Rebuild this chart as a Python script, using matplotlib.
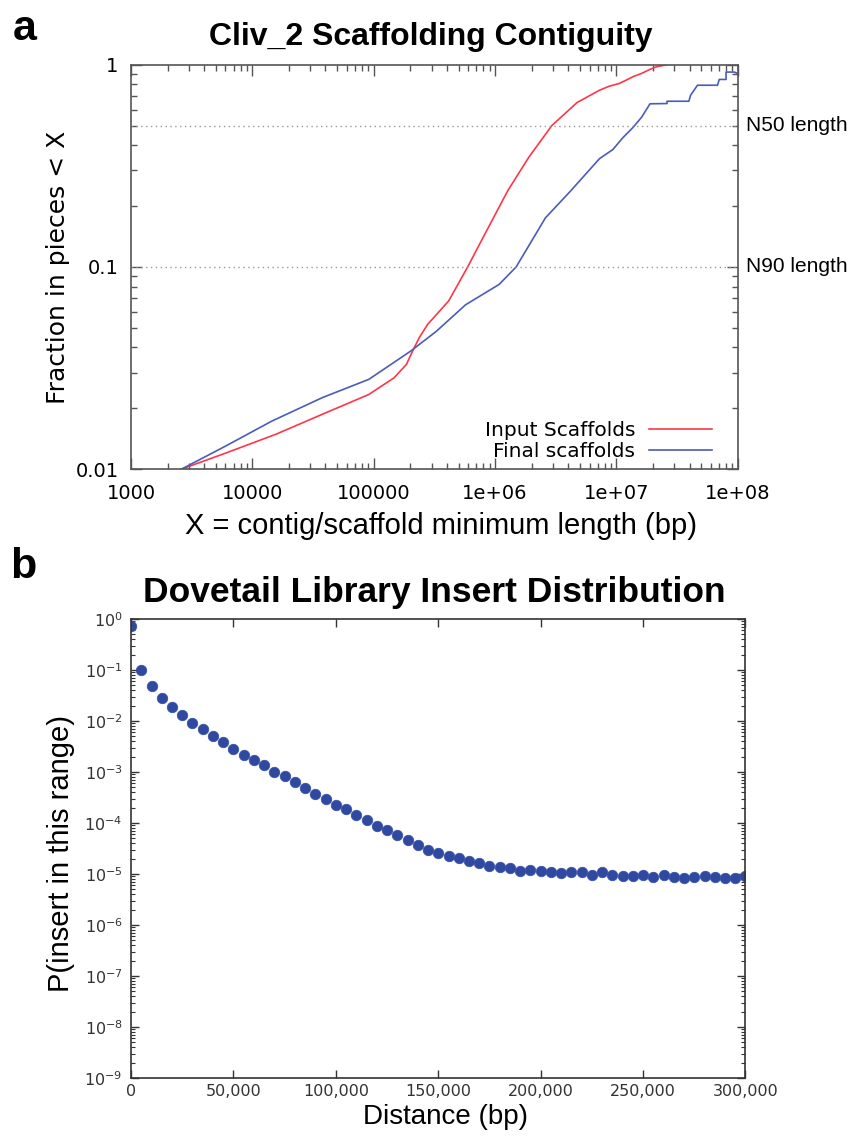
import math
import matplotlib
matplotlib.use("Agg")
import matplotlib.pyplot as plt
from matplotlib.ticker import LogLocator, NullFormatter, FuncFormatter

ARIAL = ["Liberation Sans", "DejaVu Sans"]
plt.rcParams["font.family"] = ["DejaVu Sans"]

# panel a: cumulative fraction of pieces shorter than X
input_x = [2600, 6000, 15700, 37800, 91000, 147000, 186000, 209000, 237000, 278000,
           415000, 594000, 851000, 1.27e6, 1.89e6, 2.93e6, 4.73e6, 7.24e6, 8.7e6,
           1.05e7, 1.2e7, 1.37e7, 1.61e7, 1.89e7, 2.16e7, 2.61e7]
input_y = [0.01, 0.012, 0.0149, 0.0187, 0.0234, 0.0283, 0.033, 0.0384, 0.0447, 0.052,
           0.068, 0.1, 0.151, 0.238, 0.348, 0.5, 0.65, 0.748, 0.783,
           0.807, 0.839, 0.873, 0.906, 0.949, 0.979, 1.0]
final_x = [2600, 6000, 14500, 37800, 91000, 202000, 327000, 571000, 1.08e6, 1.49e6,
           2.6e6, 4.2e6, 7.24e6, 9.35e6, 1.13e7, 1.37e7, 1.61e7, 1.89e7, 2.61e7, 2.61e7,
           3.95e7, 4.08e7, 4.65e7, 6.8e7, 7.03e7, 8.0e7, 8.0e7, 9.35e7, 1e8]
final_y = [0.01, 0.013, 0.0173, 0.0226, 0.0278, 0.0384, 0.048, 0.065, 0.082, 0.1,
           0.175, 0.238, 0.343, 0.381, 0.436, 0.49, 0.55, 0.641, 0.643, 0.66,
           0.66, 0.706, 0.792, 0.792, 0.846, 0.846, 0.92, 0.92, 0.905]
a_xticks = [1e3, 1e4, 1e5, 1e6, 1e7, 1e8]
a_xlabels = ["1000", "10000", "100000", "1e+06", "1e+07", "1e+08"]
a_yticks = [0.01, 0.1, 1]
a_ylabels = ["0.01", "0.1", "1"]
n_lines = [0.5, 0.1]
n_names = ["N50 length", "N90 length"]

# panel b: insert size distribution
distance = list(range(0, 300001, 5000))
prob = [0.72, 0.1, 0.048, 0.028, 0.0185, 0.0132, 0.0091, 0.0069, 0.005, 0.0039,
        0.0029, 0.0022, 0.00172, 0.00135, 0.00102, 0.00083, 0.00064, 0.00049, 0.00038, 0.0003,
        0.00023, 0.000185, 0.000144, 0.000114, 8.9e-5, 7.2e-5, 5.8e-5, 4.7e-5, 3.8e-5, 3.0e-5,
        2.6e-5, 2.3e-5, 2.05e-5, 1.83e-5, 1.62e-5, 1.41e-5, 1.35e-5, 1.29e-5, 1.15e-5, 1.23e-5,
        1.15e-5, 1.08e-5, 1.05e-5, 1.11e-5, 1.11e-5, 9.7e-6, 1.11e-5, 9.6e-6, 9.3e-6, 9.3e-6,
        9.7e-6, 8.7e-6, 9.7e-6, 8.7e-6, 8.3e-6, 8.7e-6, 9.3e-6, 8.7e-6, 8.3e-6, 8.3e-6,
        9.0e-6]
b_xticks = [0, 50000, 100000, 150000, 200000, 250000, 300000]

fig = plt.figure(figsize=(8.51, 11.36), dpi=100)

# ---- panel a ----
ax = fig.add_axes([0.154, 0.587, 0.713, 0.356])
ax.plot(input_x, input_y, color="#ff3548", lw=1.2, label="Input Scaffolds")
ax.plot(final_x, final_y, color="#4a5cba", lw=1.2, label="Final scaffolds")
for yv, name in zip(n_lines, n_names):
    ax.axhline(yv, color="#999999", ls=(0, (1, 2.5)), lw=1)
    ax.text(1.014, yv, name, transform=ax.get_yaxis_transform(), va="center",
            ha="left", fontsize=15, family=ARIAL)
ax.set_xscale("log")
ax.set_yscale("log")
ax.set_xlim(1e3, 1e8)
ax.set_ylim(0.01, 1)
ax.set_xticks(a_xticks, a_xlabels, fontsize=14)
ax.set_yticks(a_yticks, a_ylabels, fontsize=14)
ax.xaxis.set_minor_locator(LogLocator(base=10, subs=range(2, 10), numticks=20))
ax.yaxis.set_minor_locator(LogLocator(base=10, subs=range(2, 10), numticks=20))
ax.xaxis.set_minor_formatter(NullFormatter())
ax.yaxis.set_minor_formatter(NullFormatter())
ax.tick_params(which="both", direction="in", top=True, right=True, color="#555555")
ax.tick_params(which="major", length=8, width=1)
ax.tick_params(axis="x", which="major", pad=11)
ax.tick_params(axis="y", which="major", pad=9)
ax.tick_params(which="minor", length=4, width=1)
for sp in ax.spines.values():
    sp.set_color("#555555")
    sp.set_linewidth(1.2)
ax.set_xlabel("X = contig/scaffold minimum length (bp)", family=ARIAL, fontsize=21)
ax.xaxis.set_label_coords(0.51, -0.105)
ax.set_ylabel("Fraction in pieces < X", fontsize=18)
ax.yaxis.set_label_coords(-0.1, 0.5)
ax.legend(loc="lower right", bbox_to_anchor=(0.957, 0.02), frameon=False,
          markerfirst=False, handlelength=3.1, borderpad=0,
          borderaxespad=0, labelspacing=0.12, handletextpad=0.7,
          prop={"family": "DejaVu Sans", "size": 14.5})
fig.text(0.5065, 1 - 45 / 1136, "Cliv_2 Scaffolding Contiguity", ha="center",
         va="baseline", fontsize=23, fontweight="bold", family=ARIAL)
fig.text(0.015, 1 - 40 / 1136, "a", ha="left", va="baseline", fontsize=31,
         fontweight="bold", family=ARIAL)

# ---- panel b ----
bx = fig.add_axes([0.154, 0.051, 0.722, 0.404])
bx.plot(distance, prob, "o", ms=7.5, color="#3049a0", mec="#3a52a6", mew=0.6)
bx.set_yscale("log")
bx.set_xlim(0, 300000)
bx.set_ylim(1e-9, 1)
bx.set_xticks(b_xticks, [f"{v:,}" for v in b_xticks])
bx.yaxis.set_major_locator(LogLocator(base=10, numticks=20))
bx.yaxis.set_major_formatter(FuncFormatter(lambda v, p: r"$10^{%d}$" % round(math.log10(v))))
bx.yaxis.set_minor_locator(LogLocator(base=10, subs=range(2, 10), numticks=20))
bx.yaxis.set_minor_formatter(NullFormatter())
bx.tick_params(labelsize=11.5, labelcolor="#333333")
bx.tick_params(which="both", direction="in", top=True, right=True, color="#333333")
bx.tick_params(which="major", length=6, width=1)
bx.tick_params(axis="x", which="major", pad=4)
bx.tick_params(axis="y", which="major", pad=6)
bx.tick_params(which="minor", length=3, width=0.8)
for sp in bx.spines.values():
    sp.set_color("#333333")
    sp.set_linewidth(1.2)
bx.set_xlabel("Distance (bp)", family=ARIAL, fontsize=20)
bx.xaxis.set_label_coords(0.512, -0.057)
bx.set_ylabel("P(insert in this range)", family=ARIAL, fontsize=21)
bx.yaxis.set_label_coords(-0.091, 0.49)
fig.text(0.51, 1 - 602 / 1136, "Dovetail Library Insert Distribution", ha="center",
         va="baseline", fontsize=25.5, fontweight="bold", family=ARIAL)
fig.text(0.012, 1 - 578 / 1136, "b", ha="left", va="baseline", fontsize=31,
         fontweight="bold", family=ARIAL)

fig.savefig("out.png", dpi=100, facecolor="white")
